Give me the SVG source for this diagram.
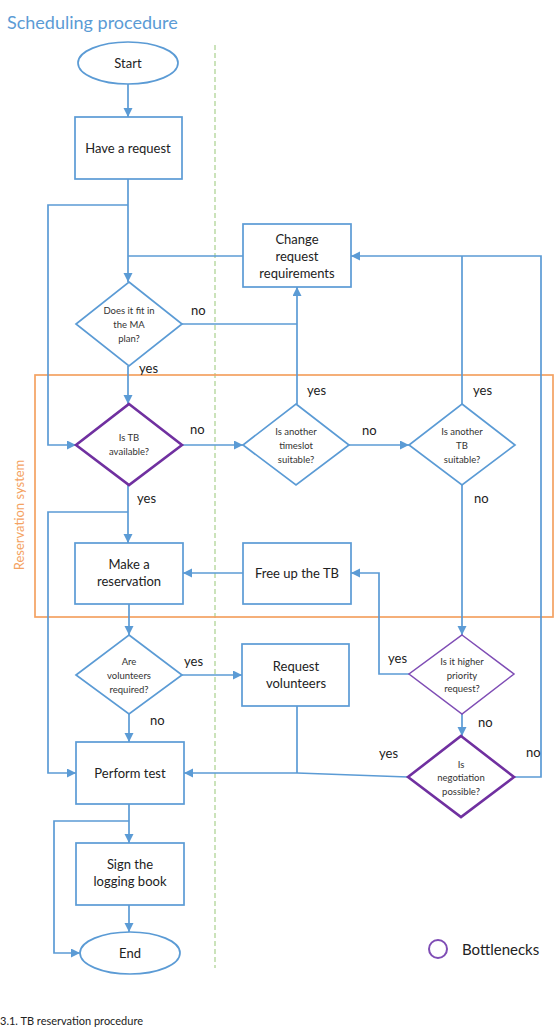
<svg xmlns="http://www.w3.org/2000/svg" width="554" height="1028" viewBox="0 0 554 1028">
<style>
.bg{fill:#ffffff}
.node{fill:#ffffff;stroke:#5B9BD5;stroke-width:1.7}
.bn{fill:#ffffff;stroke:#7030A0;stroke-width:2.6}
.bnt{fill:#ffffff;stroke:#7F4DB5;stroke-width:1.5}
.conn{fill:none;stroke:#5B9BD5;stroke-width:1.7}
.arr{marker-end:url(#ah)}
.t{font-family:Lato,"Liberation Sans",sans-serif;font-size:13px;fill:#222;text-anchor:middle}
.s{font-family:Lato,"Liberation Sans",sans-serif;font-size:9.5px;fill:#333;text-anchor:middle}
.l{font-family:Lato,"Liberation Sans",sans-serif;font-size:13px;fill:#222}
</style>
<defs>
<marker id="ah" markerUnits="userSpaceOnUse" markerWidth="10" markerHeight="10" refX="9" refY="4.5" orient="auto">
<path d="M0,0 L9,4.5 L0,9 z" fill="#5B9BD5"/>
</marker>
</defs>
<rect class="bg" x="0" y="0" width="554" height="1028"/>
<text x="7" y="29" font-family="Lato,'Liberation Sans',sans-serif" font-size="18" fill="#5B9BD5">Scheduling procedure</text>
<line x1="215" y1="45" x2="215" y2="968" stroke="#A9D18E" stroke-width="1.2" stroke-dasharray="5,3"/>
<g id="reservation-system">
<rect x="35" y="375" width="518" height="242" fill="none" stroke="#F4A262" stroke-width="1.7"/>
<text transform="translate(24,515) rotate(-90)" font-family="Lato,'Liberation Sans',sans-serif" font-size="13" fill="#F4A262" text-anchor="middle">Reservation system</text>
</g>
<g id="connectors">
<path class="conn arr" d="M128,84 V117"/>
<path class="conn arr" d="M128,179 V282"/>
<path class="conn arr" d="M128,205 H48 V445 H76"/>
<path class="conn" d="M243,256 H128"/>
<path class="conn" d="M182,324 H297"/>
<path class="conn arr" d="M297,404 V287"/>
<path class="conn arr" d="M128,366 V404"/>
<path class="conn arr" d="M182,445 H243"/>
<path class="conn arr" d="M349,445 H409"/>
<path class="conn" d="M462,404 V256"/>
<path class="conn arr" d="M514,777 H541 V256 H351"/>
<path class="conn arr" d="M128,485 V543"/>
<path class="conn arr" d="M128,512 H48 V773 H76"/>
<path class="conn arr" d="M462,485 V635"/>
<path class="conn arr" d="M243,573 H183"/>
<path class="conn arr" d="M409,674 H379 V573 H351"/>
<path class="conn arr" d="M462,714 V736"/>
<path class="conn arr" d="M408,777 L297,773 H184"/>
<path class="conn arr" d="M129,604 V635"/>
<path class="conn arr" d="M182,675 H242"/>
<path class="conn" d="M297,706 V773"/>
<path class="conn arr" d="M129,714 V742"/>
<path class="conn arr" d="M129,804 V843"/>
<path class="conn arr" d="M129,821 H54 V953 H80"/>
<path class="conn arr" d="M129,905 V932"/>
</g>
<g id="labels">
<text class="l" x="191" y="315">no</text>
<text class="l" x="139" y="373">yes</text>
<text class="l" x="190" y="434">no</text>
<text class="l" x="362" y="435">no</text>
<text class="l" x="307" y="395">yes</text>
<text class="l" x="473" y="395">yes</text>
<text class="l" x="137" y="503">yes</text>
<text class="l" x="474" y="503">no</text>
<text class="l" x="184" y="666">yes</text>
<text class="l" x="150" y="725">no</text>
<text class="l" x="388" y="663">yes</text>
<text class="l" x="478" y="727">no</text>
<text class="l" x="379" y="758">yes</text>
<text class="l" x="526" y="757">no</text>
</g>
<g id="start">
<ellipse class="node" cx="128" cy="63" rx="50" ry="21"/>
<text class="t" x="128" y="67.5">Start</text>
</g>
<g id="have-request">
<rect class="node" x="75" y="117" width="107" height="62"/>
<text class="t" x="128" y="152.5">Have a request</text>
</g>
<g id="change-request">
<rect class="node" x="243" y="224" width="108" height="63"/>
<text class="t" x="297" y="244">Change</text>
<text class="t" x="297" y="261">request</text>
<text class="t" x="297" y="278">requirements</text>
</g>
<g id="fit-ma-plan">
<polygon class="node" points="129,282 182,324 129,366 76,324"/>
<text class="s" x="129" y="314">Does it fit in</text>
<text class="s" x="129" y="328">the MA</text>
<text class="s" x="129" y="342">plan?</text>
</g>
<g id="tb-available">
<polygon class="bn" points="129,404 182,445 129,485 76,445"/>
<text class="s" x="129" y="441">Is TB</text>
<text class="s" x="129" y="455">available?</text>
</g>
<g id="another-timeslot">
<polygon class="node" points="296,404 349,445 296,485 243,445"/>
<text class="s" x="296" y="435">Is another</text>
<text class="s" x="296" y="449">timeslot</text>
<text class="s" x="296" y="463">suitable?</text>
</g>
<g id="another-tb">
<polygon class="node" points="462,404 515,445 462,485 409,445"/>
<text class="s" x="462" y="435">Is another</text>
<text class="s" x="462" y="449">TB</text>
<text class="s" x="462" y="463">suitable?</text>
</g>
<g id="make-reservation">
<rect class="node" x="75" y="543" width="108" height="61"/>
<text class="t" x="129" y="569">Make a</text>
<text class="t" x="129" y="586">reservation</text>
</g>
<g id="free-up-tb">
<rect class="node" x="243" y="543" width="108" height="61"/>
<text class="t" x="297" y="577.5">Free up the TB</text>
</g>
<g id="volunteers-required">
<polygon class="node" points="129,635 182,675 129,714 76,675"/>
<text class="s" x="129" y="665">Are</text>
<text class="s" x="129" y="679">volunteers</text>
<text class="s" x="129" y="693">required?</text>
</g>
<g id="request-volunteers">
<rect class="node" x="242" y="644" width="107" height="62"/>
<text class="t" x="296" y="671">Request</text>
<text class="t" x="296" y="688">volunteers</text>
</g>
<g id="higher-priority">
<polygon class="bnt" points="462,635 514,674 462,714 409,674"/>
<text class="s" x="462" y="665">Is it higher</text>
<text class="s" x="462" y="679">priority</text>
<text class="s" x="462" y="692">request?</text>
</g>
<g id="negotiation">
<polygon class="bn" points="461,736 514,777 461,817 408,777"/>
<text class="s" x="461" y="768">Is</text>
<text class="s" x="461" y="781">negotiation</text>
<text class="s" x="461" y="795">possible?</text>
</g>
<g id="perform-test">
<rect class="node" x="76" y="742" width="108" height="62"/>
<text class="t" x="130" y="777.5">Perform test</text>
</g>
<g id="sign-logging-book">
<rect class="node" x="76" y="843" width="108" height="62"/>
<text class="t" x="130" y="869">Sign the</text>
<text class="t" x="130" y="886">logging book</text>
</g>
<g id="end">
<ellipse class="node" cx="130" cy="953" rx="50" ry="21"/>
<text class="t" x="130" y="957.5">End</text>
</g>
<g id="legend">
<circle cx="438" cy="949" r="9" fill="none" stroke="#7F4DB5" stroke-width="2"/>
<text x="462" y="955" font-family="Lato,'Liberation Sans',sans-serif" font-size="15" fill="#222">Bottlenecks</text>
</g>
<text x="0" y="1025" font-family="Lato,'Liberation Sans',sans-serif" font-size="11" fill="#222">3.1. TB reservation procedure</text>
</svg>
